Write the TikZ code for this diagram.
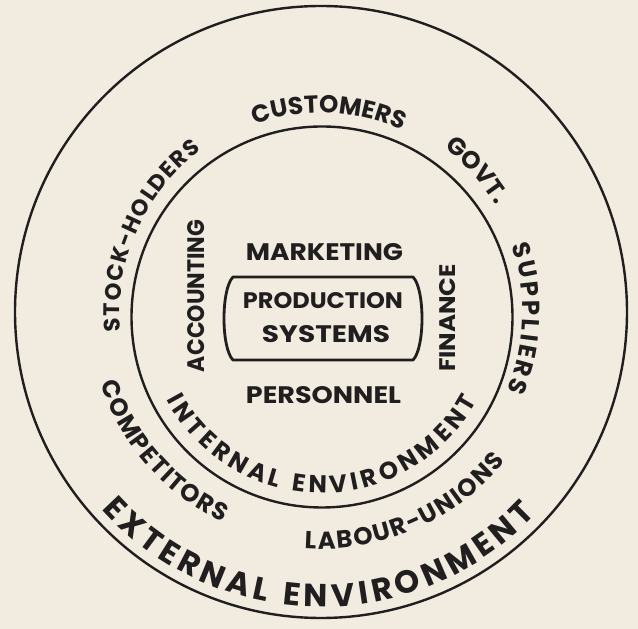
\documentclass[tikz,border=0pt]{standalone}
\usepackage{fontspec}
\usepackage{graphicx}
\newfontfamily\lab{Poppins}
\usetikzlibrary{decorations.text}
\definecolor{paper}{RGB}{242,236,224}
\definecolor{ink}{RGB}{32,30,30}
\tikzset{
  ring/.style={draw=ink, line width=2.4pt},
  boxline/.style={draw=ink, line width=2.8pt, line join=round},
  flat/.style={text=ink, inner sep=0pt},
}
% a straight label stretched to a given width and cap height
\newcommand\word[3]{\resizebox{#1}{#2}{\lab\bfseries #3}}
% text set along an arc: centre, baseline radius, start angle, end angle, size, text
\newcommand\ringtext[6]{%
  \path[decorate, decoration={text along path, text align={fit to path},
        text color=ink, text={|\lab\bfseries\fontsize{#5}{#5}\selectfont|#6}}]
    (#1) ++(#3:#2) arc[start angle=#3, end angle=#4, radius=#2];}
\begin{document}
\begin{tikzpicture}[x=1pt, y=1pt]
  \fill[paper] (0,0) rectangle (638,629);
  \useasboundingbox (0,0) rectangle (638,629);

  \coordinate (oc) at (321,317);
  \coordinate (ic) at (322,312);

  % the two environments
  \draw[ring] (oc) circle[radius=306pt];
  \draw[ring] (ic) circle[radius=190.5pt];

  % production system box with bulging sides
  \draw[boxline] (233,352) -- (413,352)
     .. controls (425,340) and (425,281) .. (413,269)
     -- (233,269)
     .. controls (221,281) and (221,340) .. (233,352) -- cycle;

  \node[flat] (prod) at (323,328.5) {\word{160pt}{16pt}{PRODUCTION}};
  \node[flat] (sys)  at (326,295) {\word{128pt}{17pt}{SYSTEMS}};
  \node[flat] (mkt)  at (324.5,377) {\word{157pt}{17pt}{MARKETING}};
  \node[flat] (pers) at (323.5,233.5) {\word{155pt}{17pt}{PERSONNEL}};
  \node[flat, rotate=90] (acc) at (196.5,333) {\word{152pt}{17pt}{ACCOUNTING}};
  \node[flat, rotate=90] (fin) at (448,311) {\word{108pt}{16pt}{FINANCE}};

  % internal environment
  \ringtext{ic}{176pt}{207.8}{331.6}{24.5}{INTERNAL ENVIRONMENT}

  % external environment
  \ringtext{oc}{199pt}{109.5}{66.7}{24.5}{CUSTOMERS}
  \ringtext{oc}{205pt}{53.1}{31.5}{24.5}{GOVT.}
  \ringtext{oc}{202pt}{19.2}{-23}{24.5}{SUPPLIERS}
  \ringtext{oc}{201pt}{185.5}{126.5}{22.5}{STOCK-HOLDERS}
  \ringtext{oc}{232pt}{198}{245}{24.5}{COMPETITORS}
  \ringtext{oc}{237pt}{266}{321}{24.5}{LABOUR-UNIONS}
  \ringtext{oc}{295pt}{222}{316.7}{32}{EXTERNAL ENVIRONMENT}
\end{tikzpicture}
\end{document}
